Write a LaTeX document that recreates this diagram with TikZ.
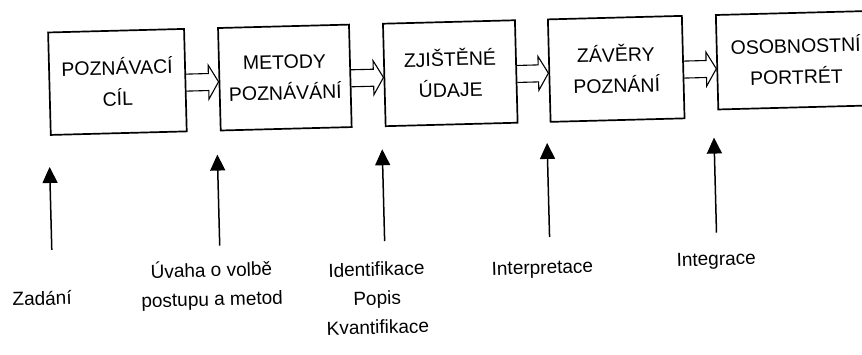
\documentclass[tikz,border=0pt]{standalone}
\usepackage{fontspec}
\setmainfont{Liberation Sans}
\usetikzlibrary{arrows.meta,calc}

\tikzset{
  stagebox/.style={draw, line width=1.7pt, minimum height=102.5pt, inner sep=0pt,
    align=center, font=\fontsize{19.5}{31}\selectfont},
  flowarrow/.style={draw, line width=1.1pt, line join=miter},
  inputarrow/.style={line width=1.5pt, -{Triangle[width=15pt,length=16pt]}},
  inputlabel/.style={inner sep=0pt, anchor=north, align=center,
    font=\fontsize{19}{29}\selectfont, execute at begin node=\strut},
}

% hollow block arrow from the right side of #1 to the left side of #2
\newcommand\hollowconn[2]{%
  \coordinate (hcA) at ($(#1.east)+(0,2.5)$);
  \coordinate (hcB) at ($(#1.east -| #2.west)+(0,2.5)$);
  \draw[flowarrow] ($(hcA)+(0,-8.5)$) -- ($(hcB)+(-10,-8.5)$) -- ($(hcB)+(-10,-17)$)
    -- (hcB) -- ($(hcB)+(-10,17)$) -- ($(hcB)+(-10,8.5)$) -- ($(hcA)+(0,8.5)$);%
}

\begin{document}
\begin{tikzpicture}[x=1pt,y=-1pt]
\useasboundingbox (0,0) rectangle (862,354);
\fill[white] (0,0) rectangle (862,354);
\clip (0,0) rectangle (862,354);

\begin{scope}[rotate around={1.5:(431,177)}, transform shape]
  % stages of the process
  \node[stagebox, minimum width=136pt] (cil)     at (120,73.75)   {POZNÁVACÍ\\CÍL};
  \node[stagebox, minimum width=131pt] (metody)  at (287.5,73.75) {METODY\\POZNÁVÁNÍ};
  \node[stagebox, minimum width=132pt] (udaje)   at (453,73.75)   {ZJIŠTĚNÉ\\ÚDAJE};
  \node[stagebox, minimum width=134pt] (zavery)  at (619,73.75)   {ZÁVĚRY\\POZNÁNÍ};
  \node[stagebox, minimum width=158pt, minimum height=94.5pt] (portret) at (799,69.75) {OSOBNOSTNÍ\\PORTRÉT};

  \hollowconn{cil}{metody}
  \hollowconn{metody}{udaje}
  \hollowconn{udaje}{zavery}
  \hollowconn{zavery}{portret}

  % inputs to each stage
  \coordinate (in1) at (50,240);  \coordinate (tip1) at (50,157);
  \coordinate (in2) at (218,240); \coordinate (tip2) at (218,149);
  \coordinate (in3) at (383,240); \coordinate (tip3) at (383,148);
  \coordinate (in4) at (548,240); \coordinate (tip4) at (548,146);
  \coordinate (in5) at (715,240); \coordinate (tip5) at (715,145);
  \foreach \i in {1,...,5} { \draw[inputarrow] (in\i) -- (tip\i); }

  \node[inputlabel] (zadani)  at (39,274.4)  {Zadání};
  \node[inputlabel] (uvaha)   at (209,254.5) {Úvaha o volbě\\postupu a metod};
  \node[inputlabel] (ident)   at (374,260.5) {Identifikace\\Popis\\Kvantifikace};
  \node[inputlabel] (interp)  at (540,256.4) {Interpretace};
  \node[inputlabel] (integr)  at (714,252.4) {Integrace};
\end{scope}
\end{tikzpicture}
\end{document}
